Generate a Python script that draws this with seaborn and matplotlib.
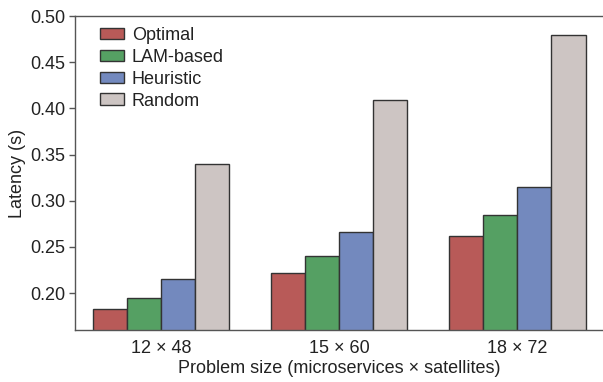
import matplotlib
matplotlib.use("Agg")
import matplotlib.pyplot as plt
import pandas as pd
import seaborn as sns

sizes = ["12 \u00d7 48", "15 \u00d7 60", "18 \u00d7 72"]
methods = ["Optimal", "LAM-based", "Heuristic", "Random"]
optimal = [0.183, 0.222, 0.262]
lam_based = [0.195, 0.240, 0.285]
heuristic = [0.215, 0.266, 0.315]
random_ = [0.340, 0.409, 0.479]
colors = ["#b85a58", "#55a063", "#7389be", "#cdc5c3"]

rows = []
for m, vals in zip(methods, [optimal, lam_based, heuristic, random_]):
    for s, v in zip(sizes, vals):
        rows.append({"size": s, "method": m, "latency": v})
df = pd.DataFrame(rows)

sns.set_theme(style="white")
plt.rcParams["font.family"] = ["Liberation Sans", "DejaVu Sans"]

fs = 13
fig = plt.figure(figsize=(6.03, 3.82), dpi=100)
ax = fig.add_axes([0.124, 0.136, 0.876, 0.822])
sns.barplot(data=df, x="size", y="latency", hue="method", palette=colors,
            width=0.764, edgecolor="#333333", linewidth=1.0, saturation=1,
            ax=ax)

ax.set_ylim(0.16, 0.50)
ax.set_xlim(-0.483, 2.48)
ax.set_yticks([0.20, 0.25, 0.30, 0.35, 0.40, 0.45, 0.50])
ax.set_yticklabels(["0.20", "0.25", "0.30", "0.35", "0.40", "0.45", "0.50"])
ax.set_xlabel("Problem size (microservices \u00d7 satellites)", fontsize=fs,
              color="#222222", labelpad=2)
ax.set_ylabel("Latency (s)", fontsize=fs, color="#222222", labelpad=3)
ax.tick_params(axis="y", length=4, width=1, color="#555555", direction="out",
               labelsize=fs, labelcolor="#222222", left=True, pad=3)
ax.tick_params(axis="x", length=0, labelsize=fs, labelcolor="#222222", pad=7)
for side in ["left", "bottom", "top"]:
    ax.spines[side].set_color("#555555")
    ax.spines[side].set_linewidth(1.0)
ax.spines["right"].set_visible(False)

leg = ax.legend(loc="upper left", frameon=False, fontsize=fs,
                handlelength=1.3, handleheight=0.6, handletextpad=0.45,
                labelspacing=0.27, borderaxespad=0.2, bbox_to_anchor=(0.028, 1.0))
for t in leg.get_texts():
    t.set_color("#222222")

fig.savefig("out.png", dpi=100, facecolor="white")
